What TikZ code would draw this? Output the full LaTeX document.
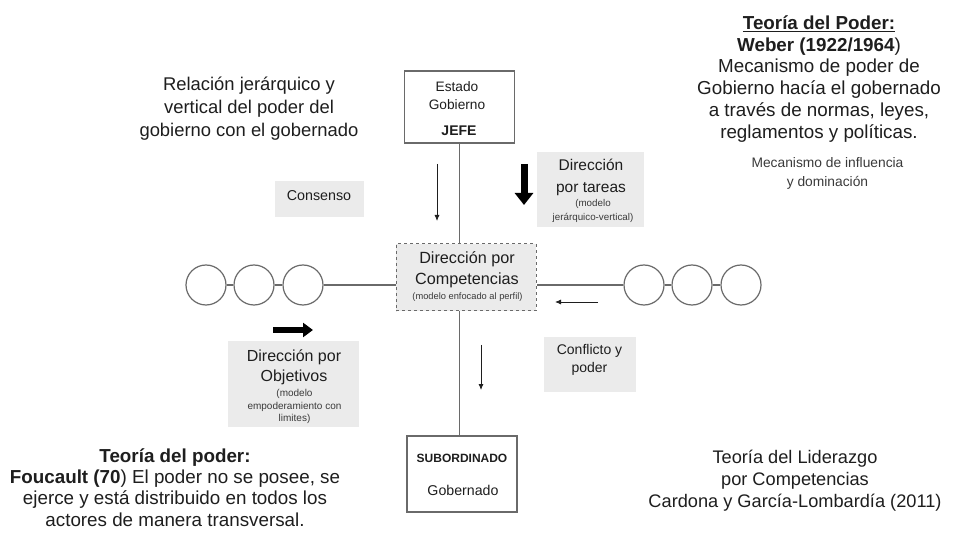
\documentclass[tikz,border=0pt]{standalone}
\usepackage{fontspec}
\setmainfont{Liberation Sans}
\usetikzlibrary{arrows.meta}
\definecolor{boxgray}{HTML}{EBEBEB}
\definecolor{linegray}{HTML}{6A6A6A}
\definecolor{txt}{HTML}{1E1E1E}
\definecolor{smalltxt}{HTML}{3A3A3A}
\begin{document}
\begin{tikzpicture}[x=1pt,y=-1pt,
  every node/.style={text=txt, inner sep=0pt},
  wbox/.style={draw=linegray, line width=1.1pt, fill=white},
  gbox/.style={fill=boxgray},
  dbox/.style={draw=linegray, dashed, line width=1pt, fill=boxgray},
  ring/.style={draw=linegray, line width=1.2pt, circle, minimum size=40pt},
  axis/.style={draw=linegray, line width=1.1pt},
  thin arrow/.style={draw=txt, line width=0.8pt, -{Latex[length=6pt,width=5pt]}},
  thick arrow/.style={draw=black, line width=7pt, -{Triangle[length=12pt,width=18pt]}},
  boxtxt/.style={align=center, font=\fontsize{16}{20}\selectfont},
  notetxt/.style={align=center, text=smalltxt},
  big/.style={font=\fontsize{18.8}{22.3}\selectfont, align=center},
  small/.style={font=\fontsize{13.8}{19}\selectfont, align=center, text=smalltxt}
]
\useasboundingbox (0,0) rectangle (956,545);
\fill[white] (0,0) rectangle (956,545);

% boxes
\node[wbox, minimum width=110pt, minimum height=72pt] (jefe) at (459.5,107) {};
\node[align=center, font=\fontsize{13.7}{18}\selectfont] (jefet) at (457,96) {Estado\\Gobierno};
\node[font=\bfseries\fontsize{14}{16}\selectfont] (jefeb) at (459,131) {JEFE};

\node[wbox, minimum width=110pt, minimum height=76pt] (sub) at (462,474) {};
\node[font=\bfseries\fontsize{12}{14}\selectfont] (subb) at (462,458) {SUBORDINADO};
\node[font=\fontsize{14.2}{16}\selectfont] (subt) at (463,490) {Gobernado};

\node[dbox, minimum width=140pt, minimum height=67pt] (dir) at (466,277.5) {};
\node[boxtxt, font=\fontsize{16.2}{20.5}\selectfont] (dirt) at (467,269.5) {Dirección por\\Competencias};
\node[notetxt, font=\fontsize{9.3}{11}\selectfont] (dirs) at (467.5,297.5) {(modelo enfocado al perfil)};

% axes
\coordinate (vx) at (jefe.south);
\draw[axis] (jefe.south) -- (vx |- dir.north);
\draw[axis] (vx |- dir.south) -- (vx |- sub.north);

% circles
\node[ring] (l1) at (206,285) {};
\node[ring] (l2) at (254,285) {};
\node[ring] (l3) at (303,285) {};
\node[ring] (r1) at (644,285) {};
\node[ring] (r2) at (692,285) {};
\node[ring] (r3) at (741,285) {};
\draw[axis] (l1) -- (l2);
\draw[axis] (l2) -- (l3);
\draw[axis] (l3.east) -- (l3.east -| dir.west);
\draw[axis] (r1) -- (r2);
\draw[axis] (r2) -- (r3);
\draw[axis] (r1.west) -- (r1.west -| dir.east);

% gray boxes
\node[gbox, minimum width=89pt, minimum height=36pt] (cons) at (319.5,199) {};
\node[font=\fontsize{14.3}{16}\selectfont] (const) at (319,195.5) {Consenso};

\node[gbox, minimum width=107pt, minimum height=75pt] (tar) at (590.5,189.5) {};
\node[boxtxt, font=\fontsize{15.5}{21.5}\selectfont] (tart) at (591,177.5) {Dirección\\por tareas};
\node[notetxt, font=\fontsize{9.8}{14}\selectfont] (tars) at (593,211) {(modelo\\jerárquico-vertical)};

\node[gbox, minimum width=131pt, minimum height=86pt] (obj) at (293.5,384) {};
\node[boxtxt, font=\fontsize{16}{19.5}\selectfont] (objt) at (294,367.5) {Dirección por\\Objetivos};
\node[notetxt, font=\fontsize{10}{12.3}\selectfont] (objs) at (294.5,406.5) {(modelo\\empoderamiento con\\limites)};

\node[gbox, minimum width=92pt, minimum height=55pt] (conf) at (590,364.5) {};
\node[align=center, font=\fontsize{14}{18}\selectfont] (conft) at (589.5,359.5) {Conflicto y\\poder};

% thin arrows
\coordinate (a1s) at (437,164); \coordinate (a1e) at (437,221);
\coordinate (a2s) at (481,345); \coordinate (a2e) at (481,390);
\coordinate (a3s) at (598,302); \coordinate (a3e) at (555,302);
\draw[thin arrow] (a1s) -- (a1e);
\draw[thin arrow] (a2s) -- (a2e);
\draw[thin arrow] (a3s) -- (a3e);

% thick arrows
\coordinate (t1s) at (524,164); \coordinate (t1e) at (524,205);
\coordinate (t2s) at (273,330); \coordinate (t2e) at (313,330);
\draw[thick arrow] (t1s) -- (t1e);
\draw[thick arrow, line width=6.5pt, -{Triangle[length=10pt,width=14pt]}] (t2s) -- (t2e);

% texts
\node[big, font=\fontsize{18.4}{23}\selectfont] (rel) at (249,109) {Relación jerárquico y\\vertical del poder del\\gobierno con el gobernado};
\node[big, font=\fontsize{18.8}{21.9}\selectfont] (weber) at (819,79)
  {\textbf{\underline{Teoría del Poder:}}\\\textbf{Weber (1922/1964})\\Mecanismo de poder de\\Gobierno hacía el gobernado\\a través de normas, leyes,\\reglamentos y políticas.};
\node[small] (infl) at (827.5,173) {Mecanismo de influencia\\y dominación};
\node[big, font=\fontsize{18.8}{21.3}\selectfont] (fou) at (175,487.5)
  {\textbf{Teoría del poder:}\\\textbf{Foucault (70}) El poder no se posee, se\\ejerce y está distribuido en todos los\\actores de manera transversal.};
\node[big, font=\fontsize{18.2}{22}\selectfont] (lid) at (795,481)
  {Teoría del Liderazgo\\por Competencias\\Cardona y García-Lombardía (2011)};
\end{tikzpicture}
\end{document}
